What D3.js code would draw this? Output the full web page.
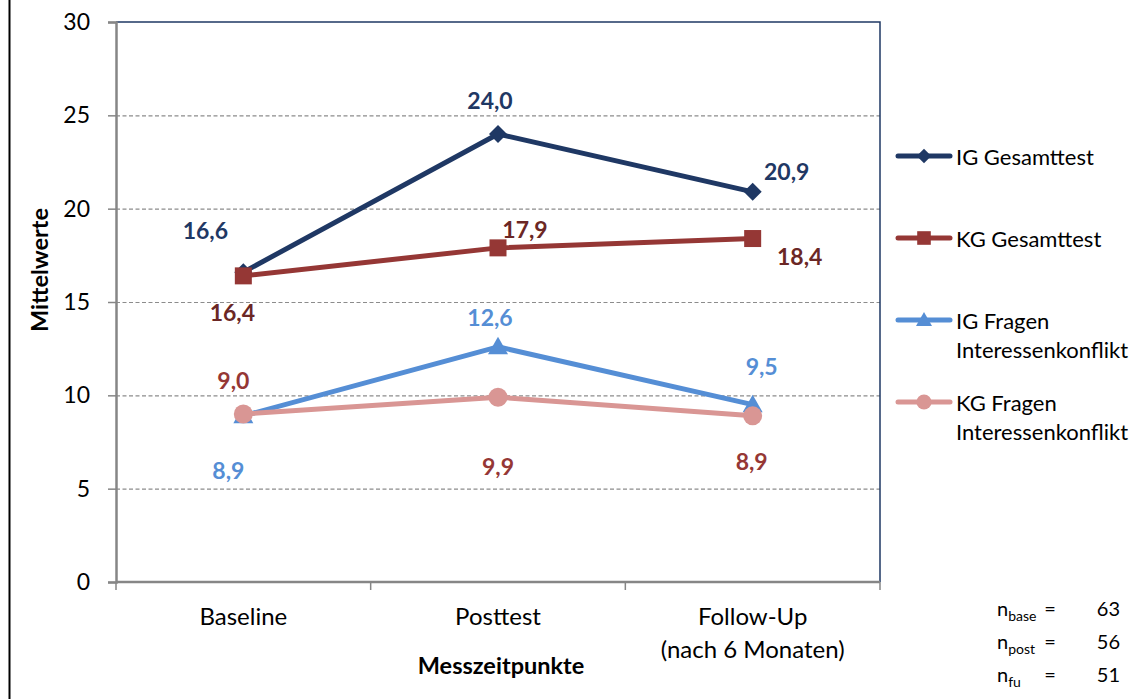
<!DOCTYPE html>
<html>
<head>
<meta charset="utf-8">
<script src="https://cdn.jsdelivr.net/npm/d3@7"></script>
<style>
  html, body { margin: 0; padding: 0; background: #fff; }
  svg { display: block; font-family: Lato, "Open Sans", sans-serif; }
</style>
</head>
<body>
<svg id="chart" width="1132" height="699"></svg>
<script>
// Measurement points
const categories = ["Baseline", "Posttest", "Follow-Up"];
const categoryLines = [["Baseline"], ["Posttest"], ["Follow-Up", "(nach 6 Monaten)"]];

// Mean scores per group
const igGesamt = [16.6, 24.0, 20.9];
const kgGesamt = [16.4, 17.9, 18.4];
const igFragen = [8.9, 12.6, 9.5];
const kgFragen = [9.0, 9.9, 8.9];

const seriesNames = [["IG Gesamttest"], ["KG Gesamttest"], ["IG Fragen", "Interessenkonflikt"], ["KG Fragen", "Interessenkonflikt"]];
const yTicks = [0, 5, 10, 15, 20, 25, 30];

// Sample sizes
const nLabels = ["base", "post", "fu"];
const nValues = [63, 56, 51];

// Styling per series (colours, marker, label placement relative to the point)
const styles = [
  { line: "#1F3864", label: "#1F3864", marker: "diamond",
    offsets: [[-38, -42], [-8, -34], [34, -21]] },
  { line: "#953735", label: "#6B2725", marker: "square",
    offsets: [[-11, 36], [27, -19], [47, 17]] },
  { line: "#558ED5", label: "#558ED5", marker: "triangle",
    offsets: [[-15, 54], [-8, -30], [9, -39]] },
  { line: "#D99694", label: "#953735", marker: "circle",
    offsets: [[-10, -34], [0, 69], [-1, 45]] }
];

const seriesValues = [igGesamt, kgGesamt, igFragen, kgFragen];

const svg = d3.select("#chart");
const plot = { left: 116, right: 880, top: 22, bottom: 582 };

const x = d3.scaleBand().domain(categories).range([plot.left, plot.right]);
const y = d3.scaleLinear().domain([0, 30]).range([plot.bottom, plot.top]);
const cx = c => x(c) + x.bandwidth() / 2;

// Outer frame edge on the left
svg.append("line").attr("x1", 9.5).attr("x2", 9.5).attr("y1", 0).attr("y2", 699)
  .attr("stroke", "#000").attr("stroke-width", 2);

// Dashed gridlines
svg.append("g").selectAll("line").data(yTicks.filter(t => t > 0 && t < 30)).join("line")
  .attr("x1", plot.left).attr("x2", plot.right)
  .attr("y1", d => y(d) + 0.5).attr("y2", d => y(d) + 0.5)
  .attr("stroke", "#8c8c8c").attr("stroke-width", 1.2).attr("stroke-dasharray", "4,2.5");

// Top and right plot border
svg.append("path")
  .attr("d", `M${plot.left},${y(30)}H${plot.right}V${plot.bottom}`)
  .attr("fill", "none").attr("stroke", "#1F3864").attr("stroke-width", 1.5);

// Y axis
const yAxis = svg.append("g").attr("transform", `translate(${plot.left},0)`)
  .call(d3.axisLeft(y).tickValues(yTicks).tickSize(8).tickPadding(18).tickFormat(d3.format("d")));
yAxis.select(".domain").attr("stroke", "#868686").attr("stroke-width", 2.5);
yAxis.selectAll(".tick line").attr("stroke", "#868686").attr("stroke-width", 1.5);
yAxis.selectAll(".tick text").attr("font-size", 23).attr("fill", "#000")
  .attr("font-family", "Lato, sans-serif");

// X axis: boundaries between categories carry tick marks
const bounds = categories.map(c => x(c)).concat([plot.right]);
svg.append("line").attr("x1", plot.left).attr("x2", plot.right)
  .attr("y1", plot.bottom).attr("y2", plot.bottom)
  .attr("stroke", "#868686").attr("stroke-width", 2.5);
svg.append("g").selectAll("line").data(bounds).join("line")
  .attr("x1", d => d).attr("x2", d => d)
  .attr("y1", plot.bottom).attr("y2", plot.bottom + 8)
  .attr("stroke", "#868686").attr("stroke-width", 1.5);

// Category labels
const catG = svg.append("g").attr("font-size", 24).attr("fill", "#000").attr("text-anchor", "middle");
categories.forEach((c, i) => {
  categoryLines[i].forEach((t, j) => {
    catG.append("text").attr("x", cx(c)).attr("y", 625 + j * 33).text(t);
  });
});

// Axis titles
svg.append("text").attr("x", 501).attr("y", 674).attr("text-anchor", "middle")
  .attr("font-size", 23.5).attr("font-weight", "bold").text("Messzeitpunkte");
svg.append("text").attr("transform", "translate(48,270) rotate(-90)").attr("text-anchor", "middle")
  .attr("font-size", 23.5).attr("font-weight", "bold").text("Mittelwerte");

// Marker drawing
function drawMarker(g, type, color, px, py, scale) {
  const s = scale || 1;
  if (type === "diamond") {
    const r = 9 * s;
    g.append("path").attr("d", `M${px},${py - r}L${px + r},${py}L${px},${py + r}L${px - r},${py}Z`).attr("fill", color);
  } else if (type === "square") {
    const h = 8.5 * s;
    g.append("rect").attr("x", px - h).attr("y", py - h).attr("width", 2 * h).attr("height", 2 * h).attr("fill", color);
  } else if (type === "triangle") {
    const r = 10 * s;
    g.append("path").attr("d", `M${px},${py - r}L${px + r},${py + r * 0.75}L${px - r},${py + r * 0.75}Z`).attr("fill", color);
  } else {
    g.append("circle").attr("cx", px).attr("cy", py).attr("r", 9.5 * s).attr("fill", color);
  }
}

const line = d3.line().x((d, i) => cx(categories[i])).y(d => y(d));

// Series lines and markers
seriesValues.forEach((vals, si) => {
  const st = styles[si];
  const g = svg.append("g");
  g.append("path").datum(vals).attr("d", line).attr("fill", "none")
    .attr("stroke", st.line).attr("stroke-width", 5).attr("stroke-linejoin", "round").attr("stroke-linecap", "round");
  vals.forEach((v, i) => drawMarker(g, st.marker, st.line, cx(categories[i]), y(v)));
});

// Value labels
const fmt = v => d3.format(".1f")(v).replace(".", ",");
seriesValues.forEach((vals, si) => {
  const st = styles[si];
  vals.forEach((v, i) => {
    svg.append("text")
      .attr("x", cx(categories[i]) + st.offsets[i][0])
      .attr("y", y(v) + st.offsets[i][1])
      .attr("dominant-baseline", "central").attr("text-anchor", "middle")
      .attr("font-size", 23).attr("font-weight", "bold").attr("fill", st.label)
      .text(fmt(v));
  });
});

// Legend
const legendY = [156, 238, 320, 402];
const leg = svg.append("g");
seriesNames.forEach((names, si) => {
  const st = styles[si];
  const ly = legendY[si];
  leg.append("line").attr("x1", 898).attr("x2", 950).attr("y1", ly).attr("y2", ly)
    .attr("stroke", st.line).attr("stroke-width", 5).attr("stroke-linecap", "round");
  drawMarker(leg, st.marker, st.line, 924, ly, 0.8);
  names.forEach((t, j) => {
    leg.append("text").attr("x", 956).attr("y", ly + j * 29).attr("dominant-baseline", "central")
      .attr("font-size", 22).attr("fill", "#000").text(t);
  });
});

// Sample sizes
const nG = svg.append("g").attr("font-size", 20).attr("fill", "#000");
nLabels.forEach((lab, i) => {
  const ty = 616 + i * 33;
  const t = nG.append("text").attr("x", 997).attr("y", ty);
  t.append("tspan").text("n");
  t.append("tspan").attr("font-size", 14).attr("dy", 5).text(lab);
  nG.append("text").attr("x", 1050).attr("y", ty).attr("text-anchor", "middle").text("=");
  nG.append("text").attr("x", 1120).attr("y", ty).attr("text-anchor", "end").text(nValues[i]);
});
</script>
</body>
</html>
